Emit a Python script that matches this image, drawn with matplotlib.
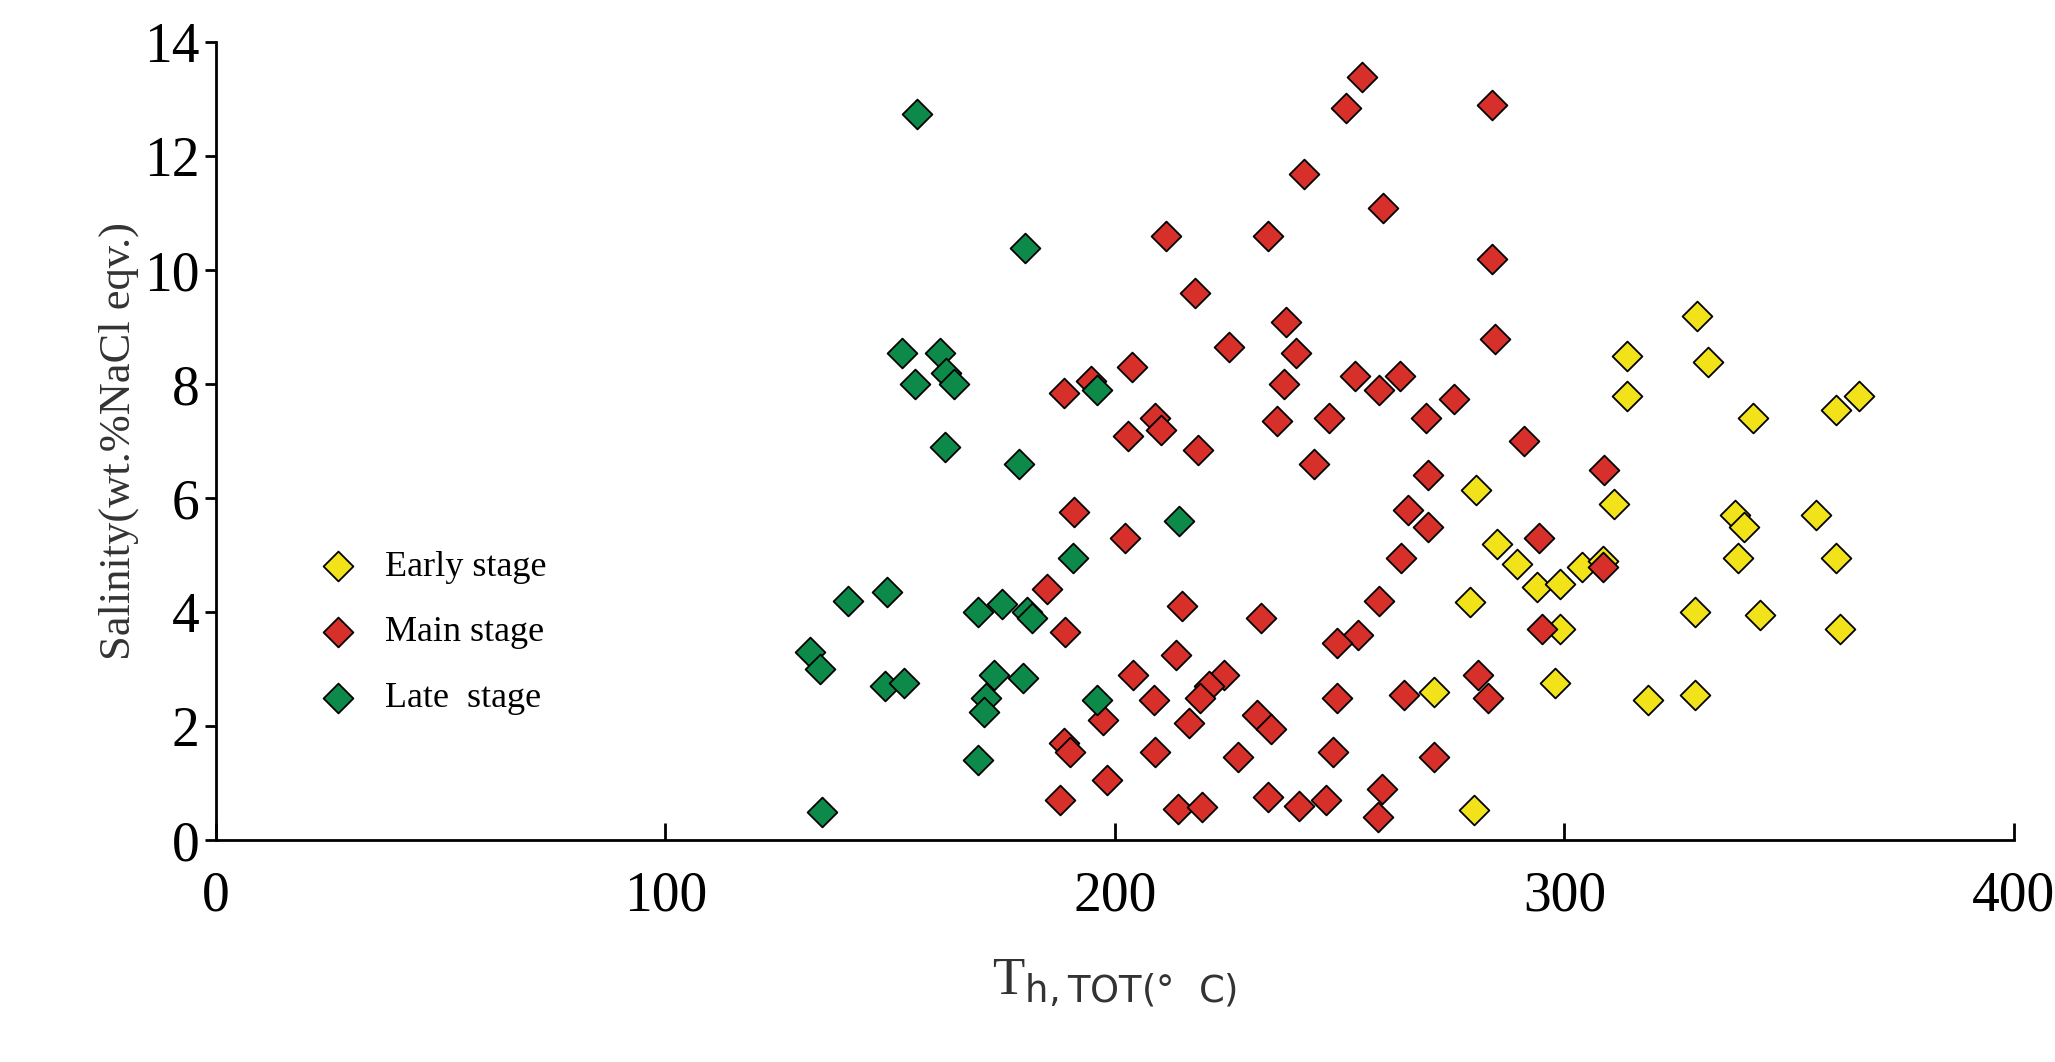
import matplotlib
matplotlib.use("Agg")
import matplotlib.pyplot as plt

early_x = [280,271,279,280.4,285,289.5,294,299,299,298,304,308.5,311,314,314,318.6,329,329,329.5,332,342,338,340,338.6,343.6,356,360.5,365.5,360.5,361.4]
early_y = [0.53,2.6,4.17,6.15,5.2,4.85,4.45,4.5,3.7,2.75,4.8,4.9,5.9,7.8,8.5,2.45,2.55,4.0,9.2,8.4,7.4,5.7,5.5,4.95,3.95,5.7,7.55,7.8,4.95,3.7]
main_x = [255,251.5,284,242,259.6,211.4,234,284,217.8,238,225.4,284.5,240.3,203.8,253.5,263.5,258.8,237.7,194.7,188.6,275.4,209,210.2,247.7,236,269.3,203,218.4,291,244.4,269.6,308.8,265.2,269.6,191,202.3,294.4,263.7,308.5,258.8,215,232.5,185,189,295,254,249.4,213.7,204,224.3,221,219,208.8,249.4,264.3,280.7,283,231.6,234.8,216.4,197.4,188.6,190,209,227.5,248.5,271,198.2,187.7,214,219.3,234,241,247,259.4,258.5]
main_y = [13.4,12.85,12.9,11.7,11.1,10.6,10.6,10.2,9.6,9.1,8.65,8.8,8.55,8.3,8.15,8.15,7.9,8.0,8.05,7.85,7.75,7.4,7.2,7.4,7.35,7.4,7.1,6.85,7.0,6.6,6.4,6.5,5.8,5.5,5.75,5.3,5.3,4.95,4.8,4.2,4.1,3.9,4.4,3.65,3.7,3.6,3.45,3.25,2.9,2.9,2.7,2.5,2.45,2.5,2.55,2.9,2.5,2.2,1.95,2.05,2.1,1.7,1.55,1.55,1.45,1.55,1.45,1.05,0.7,0.55,0.58,0.75,0.6,0.7,0.9,0.4]
late_x = [156,180,152.6,161,162.5,164.3,155.6,196,162.3,178.7,214.3,190.6,149.4,140.6,169.6,175,180.4,181.6,132.2,134.5,148.8,153.2,173.2,179.5,171.3,171,196,169.6,134.8]
late_y = [12.75,10.4,8.55,8.55,8.2,8.0,8.0,7.9,6.9,6.6,5.6,4.95,4.35,4.2,4.0,4.15,4.0,3.9,3.3,3.0,2.7,2.75,2.9,2.85,2.5,2.25,2.45,1.4,0.5]

plt.rcParams['font.family'] = ['Liberation Serif', 'DejaVu Serif']
fig = plt.figure(figsize=(20.55, 10.62), dpi=100)
ax = fig.add_axes([0.105, 0.209, 0.875, 0.751])
kw = dict(marker='D', s=230, edgecolors='black', linewidths=1.3, zorder=3)
ax.scatter(early_x, early_y, c='#f2e21a', label='Early stage', **kw)
ax.scatter(main_x, main_y, c='#d7302a', label='Main stage', **kw)
ax.scatter(late_x, late_y, c='#0d8a4a', label='Late  stage', **kw)
ax.set_xlim(0, 400)
ax.set_ylim(0, 14)
ax.set_xticks(range(0, 401, 100))
ax.set_yticks(range(0, 15, 2))
ax.spines['top'].set_visible(False)
ax.spines['right'].set_visible(False)
for s in ('left', 'bottom'):
    ax.spines[s].set_linewidth(2)
ax.tick_params(axis='y', direction='out', length=8, width=2, labelsize=40)
ax.tick_params(axis='x', direction='in', length=12, width=2, labelsize=40, pad=22)
ax.set_ylabel('Salinity(wt.%NaCl eqv.)', fontsize=32, color='#333333')
ax.set_xlabel(r'T$_{\rm h,TOT(°\ \ C)}$', fontsize=38, color='#333333', labelpad=25)
ax.legend(loc='center left', bbox_to_anchor=(0.03, 0.26), frameon=False,
          fontsize=26, handletextpad=0.3, labelspacing=0.9, scatterpoints=1)
fig.savefig('out.png', dpi=100)
